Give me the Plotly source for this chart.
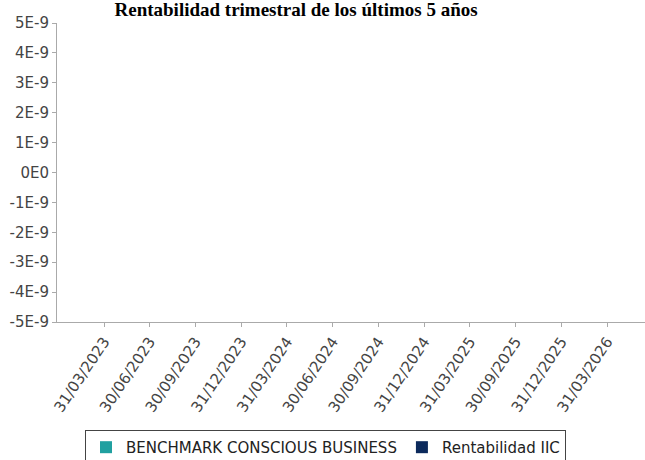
import plotly.graph_objects as go

# Data
categories = ["31/03/2023", "30/06/2023", "30/09/2023", "31/12/2023", "31/03/2024",
              "30/06/2024", "30/09/2024", "31/12/2024", "31/03/2025", "30/09/2025",
              "31/12/2025", "31/03/2026"]
benchmark_values = [0.0] * 12
iic_values = [0.0] * 12
series_names = ["BENCHMARK CONSCIOUS BUSINESS", "Rentabilidad IIC"]
y_tick_values = [5e-9, 4e-9, 3e-9, 2e-9, 1e-9, 0.0, -1e-9, -2e-9, -3e-9, -4e-9, -5e-9]
y_tick_labels = ["5E-9", "4E-9", "3E-9", "2E-9", "1E-9", "0E0", "-1E-9", "-2E-9", "-3E-9", "-4E-9", "-5E-9"]
title_text = "Rentabilidad trimestral de los últimos 5 años"

colors = ["#20a0a0", "#0c2a5c"]

fig = go.Figure()
for name, vals, col in zip(series_names, [benchmark_values, iic_values], colors):
    fig.add_trace(go.Bar(x=categories, y=vals, name=name,
                         marker=dict(color=col, line=dict(width=0))))

tick_font = dict(family="DejaVu Sans", size=15, color="#444444")

fig.update_layout(
    width=645, height=460,
    margin=dict(l=57, r=0, t=23, b=138, autoexpand=False),
    paper_bgcolor="white", plot_bgcolor="white",
    title=dict(text="<b>" + title_text + "</b>", x=0.459, xanchor="center",
               xref="container", y=1 - 9 / 460, yref="container", yanchor="middle",
               font=dict(family="Liberation Serif", size=19, color="#000000")),
    showlegend=True,
    legend=dict(orientation="h", x=0.4566, xanchor="center", y=-0.361, yanchor="top",
                bordercolor="#444444", borderwidth=1, bgcolor="white",
                font=dict(family="DejaVu Sans", size=15, color="#222222"),
                itemwidth=30, tracegroupgap=0),
    barmode="group",
)

fig.update_xaxes(type="category", range=[-1.028, 11.83], automargin=False,
                 showline=True, linecolor="#aaaaaa", linewidth=1,
                 ticks="outside", ticklen=4, tickcolor="#aaaaaa",
                 showgrid=False, zeroline=False, tickangle=-56,
                 tickfont=tick_font, fixedrange=True)
fig.update_yaxes(range=[-5e-9, 5e-9], tickvals=y_tick_values, ticktext=y_tick_labels,
                 automargin=False,
                 showline=True, linecolor="#aaaaaa", linewidth=1,
                 ticks="outside", ticklen=4, tickcolor="#aaaaaa",
                 showgrid=False, zeroline=False, tickfont=tick_font, fixedrange=True)

fig.write_html("out.html", config={"displayModeBar": False},
               post_script="document.body.style.margin='0';document.body.style.overflow='hidden';")
